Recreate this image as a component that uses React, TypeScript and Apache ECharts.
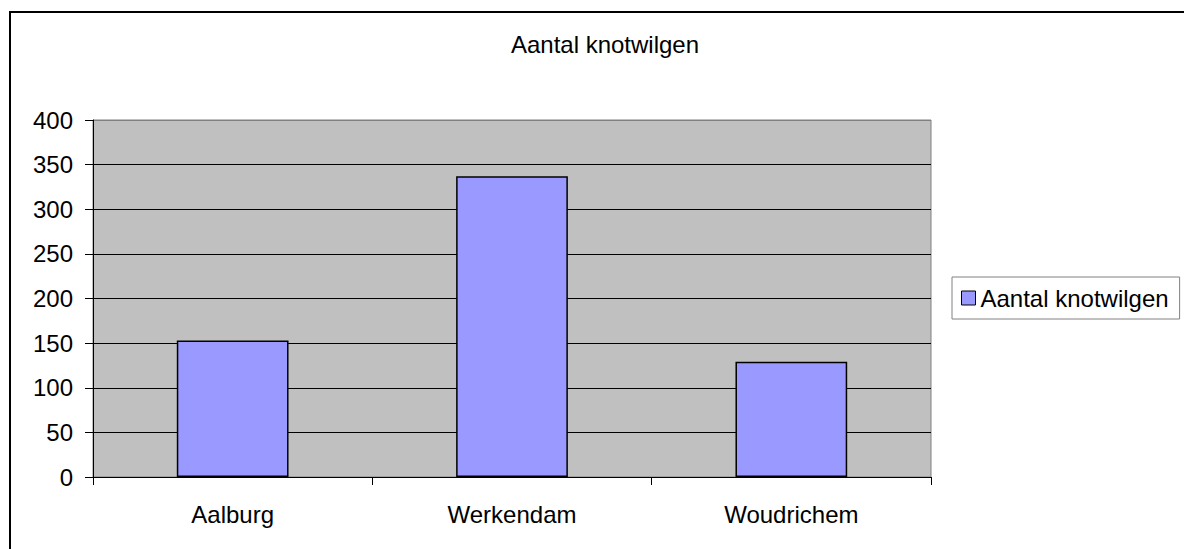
import React, { useEffect, useRef } from "react";
import * as echarts from "echarts";

const categories = ["Aalburg", "Werkendam", "Woudrichem"];
const seriesName = "Aantal knotwilgen";
const values = [153, 337, 129];
const chartTitle = "Aantal knotwilgen";

const FONT = "'Liberation Sans', Arial, sans-serif";

export default function App() {
  const ref = useRef<HTMLDivElement>(null);
  useEffect(() => {
    if (!ref.current) return;
    const chart = echarts.init(ref.current, null, { renderer: "svg" });
    chart.setOption({
      animation: false,
      backgroundColor: "#ffffff",
      textStyle: { fontFamily: FONT },
      graphic: [
        {
          type: "rect",
          shape: { x: 10, y: 12, width: 1210, height: 560 },
          style: { fill: "none", stroke: "#000000", lineWidth: 2 },
          silent: true,
          z: 100,
        },
        {
          type: "text",
          x: 605,
          y: 44,
          style: {
            text: chartTitle,
            fontFamily: FONT,
            fontSize: 24,
            fill: "#000000",
            align: "center",
            verticalAlign: "middle",
          },
        },
      ],
      legend: {
        left: 952,
        top: 277,
        orient: "vertical",
        padding: [9, 11, 9, 9],
        borderColor: "#808080",
        borderWidth: 1,
        backgroundColor: "#ffffff",
        itemWidth: 14,
        itemHeight: 14,
        itemGap: 5,
        icon: "rect",
        itemStyle: { borderColor: "#000000", borderWidth: 1 },
        textStyle: { fontFamily: FONT, fontSize: 24, color: "#000000", padding: [0, 0, 0, 0] },
        data: [seriesName],
      },
      grid: {
        left: 93,
        top: 120,
        right: 253,
        bottom: 72,
        show: true,
        backgroundColor: "#C0C0C0",
        borderColor: "#808080",
        borderWidth: 1,
        containLabel: false,
      },
      xAxis: {
        type: "category",
        data: categories,
        boundaryGap: true,
        axisLine: { show: true, lineStyle: { color: "#000000", width: 1 } },
        axisTick: { show: true, inside: false, length: 8, lineStyle: { color: "#000000" } },
        axisLabel: {
          fontFamily: FONT,
          fontSize: 24,
          color: "#000000",
          margin: 37,
          verticalAlign: "middle",
        },
        splitLine: { show: false },
      },
      yAxis: {
        type: "value",
        min: 0,
        max: 400,
        interval: 50,
        axisLine: { show: true, lineStyle: { color: "#000000", width: 1 } },
        axisTick: { show: true, inside: false, length: 8, lineStyle: { color: "#000000" } },
        axisLabel: { fontFamily: FONT, fontSize: 24, color: "#000000", margin: 20 },
        splitLine: {
          show: true,
          lineStyle: {
            color: ["#000000", "#000000", "#000000", "#000000", "#000000", "#000000", "#000000", "#000000", "#808080"],
            width: 1,
          },
        },
      },
      series: [
        {
          name: seriesName,
          type: "bar",
          data: values,
          barWidth: "40%",
          itemStyle: { color: "#9999FF", borderColor: "#000000", borderWidth: 1.5 },
        },
      ],
    });
    return () => chart.dispose();
  }, []);
  return (
    <div
      ref={ref}
      style={{ position: "fixed", left: 0, top: 0, width: 1184, height: 549 }}
    />
  );
}
